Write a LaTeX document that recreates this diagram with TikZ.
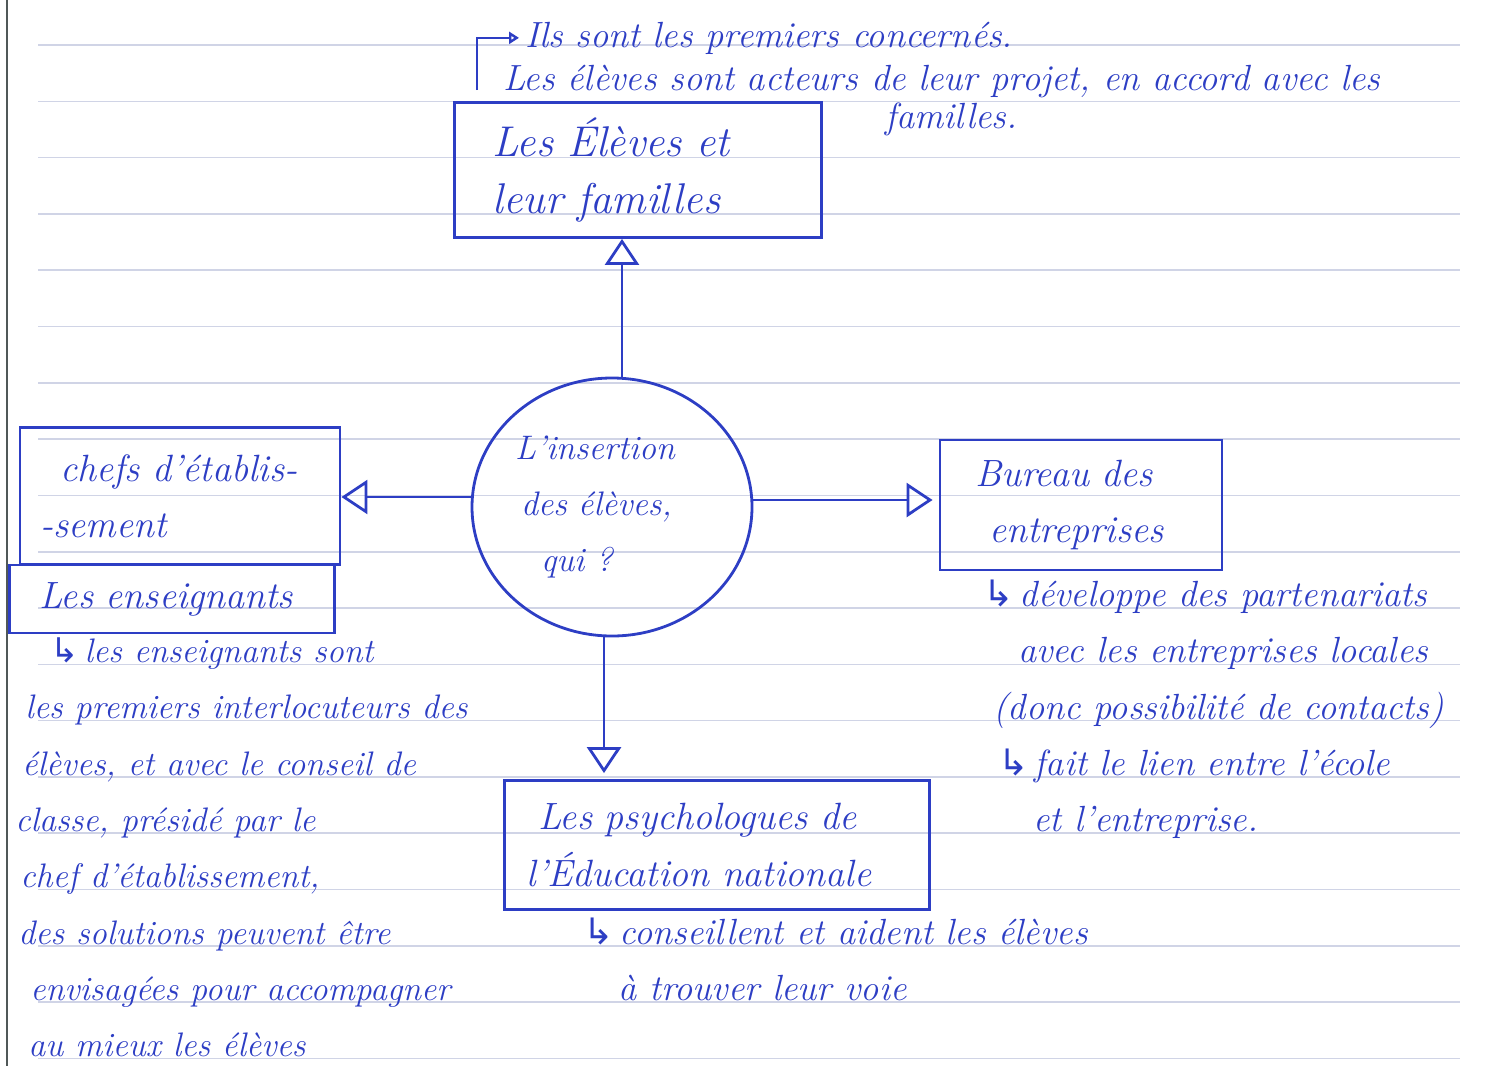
\documentclass[tikz,border=0pt]{standalone}
\usepackage{fontspec}
\newfontfamily\arrowfont{DejaVu Sans}
\usetikzlibrary{arrows.meta,shapes.geometric}
\definecolor{ink}{RGB}{45,62,196}
\definecolor{ruling}{RGB}{208,212,230}
\definecolor{marginline}{RGB}{80,88,88}
\newcommand\hand{\fontsize{17}{28.15}\selectfont\itshape}
\newcommand\widehand{\fontsize{18.2}{28.15}\selectfont\itshape}
\newcommand\bighand{\fontsize{19}{28.15}\selectfont\itshape}
\newcommand\turn{{\arrowfont\upshape ↳}\,}
\begin{document}
\begin{tikzpicture}
[x=0.5pt,y=-0.5pt,%
  every node/.style={ink,inner sep=0pt},%
  box/.style={draw,line width=1.4pt,align=left,font=\bighand},%
  note/.style={anchor=base west,font=\hand},%
  widenote/.style={note,font=\widehand},%
  link/.style={ink,line width=1.4pt,-{Triangle[open,length=13pt,width=17pt]}}]
\useasboundingbox (0,0) rectangle (1488,1066);
% lined paper
\foreach \k in {0,...,18}
  \draw[ruling,line width=0.8pt] (38,{45+56.3*\k}) -- (1460,{45+56.3*\k});
\draw[marginline,line width=1pt] (7,0) -- (7,1066);
% centre
\node[draw,ellipse,line width=1.4pt,minimum width=140pt,minimum height=129pt,
  align=left,text width=97pt,font=\hand] (insertion) at (612,507)
  {L'insertion\\\hspace*{3pt}des élèves,\\\hspace*{13pt}qui ?};
% boxes
\node[box,minimum width=183.5pt,minimum height=67.5pt,text width=145.5pt,
  font=\fontsize{21.5}{28.15}\selectfont\itshape] (eleves) at (638,170)
  {Les Élèves et\\leur familles};
\node[box,minimum width=160pt,minimum height=68.5pt,text width=140pt] (chefs) at (180,496)
  {\hspace*{10pt}chefs d'établis-\\-sement};
\node[box,minimum width=162.5pt,minimum height=34pt,text width=132.5pt] (profs) at (172,599)
  {Les enseignants};
\node[box,minimum width=141pt,minimum height=65pt,text width=106pt] (bureau) at (1081,505)
  {Bureau des\\\hspace*{7pt}entreprises};
\node[box,minimum width=212.5pt,minimum height=64.5pt,text width=190.5pt] (psy) at (717,845)
  {\hspace*{6pt}Les psychologues de\\l'Éducation nationale};
% arrows
\draw[link] ([xshift=5pt]insertion.north) -- ([xshift=5pt]insertion.north |- eleves.south);
\draw[link] ([yshift=5pt]insertion.west) -- ([yshift=5pt]insertion.west -| chefs.east);
\draw[link] ([yshift=3.5pt]insertion.east) -- ([yshift=3.5pt,xshift=-3pt]insertion.east -| bureau.west);
\draw[link] ([xshift=-4pt]insertion.south) -- ([xshift=-4pt,yshift=3pt]insertion.south |- psy.north);
% notes on the families
\node[widenote] (ils) at (525,47) {Ils sont les premiers concernés.};
\node[widenote] (acteurs) at (503,90) {Les élèves sont acteurs de leur projet, en accord avec les};
\node[widenote] (familles) at (885,128) {familles.};
\coordinate (brk) at (477,90);
\draw[ink,line width=1.2pt,-{Triangle[open,length=5pt,width=6pt]}] (brk) |- ([xshift=-3pt]ils.west);
% notes on the teachers
\node[note] (ens1) at (50,662) {\turn les enseignants sont};
\node[note] (ens2) at (25,718) {les premiers interlocuteurs des};
\node[note] (ens3) at (22,775) {élèves, et avec le conseil de};
\node[note] (ens4) at (15,831) {classe, présidé par le};
\node[note] (ens5) at (20,887) {chef d'établissement,};
\node[note] (ens6) at (18,944) {des solutions peuvent être};
\node[note] (ens7) at (30,1000) {envisagées pour accompagner};
\node[note] (ens8) at (28,1056) {au mieux les élèves};
% notes on the office
\node[widenote] (bur1) at (983,606) {\turn développe des partenariats};
\node[widenote] (bur2) at (1018,662) {avec les entreprises locales};
\node[widenote] (bur3) at (993,719) {(donc possibilité de contacts)};
\node[widenote] (bur4) at (998,775) {\turn fait le lien entre l'école};
\node[widenote] (bur5) at (1033,831) {et l'entreprise.};
% notes on the psychologists
\node[widenote] (psy1) at (583,944) {\turn conseillent et aident les élèves};
\node[widenote] (psy2) at (618,1000) {à trouver leur voie};
\end{tikzpicture}
\end{document}
